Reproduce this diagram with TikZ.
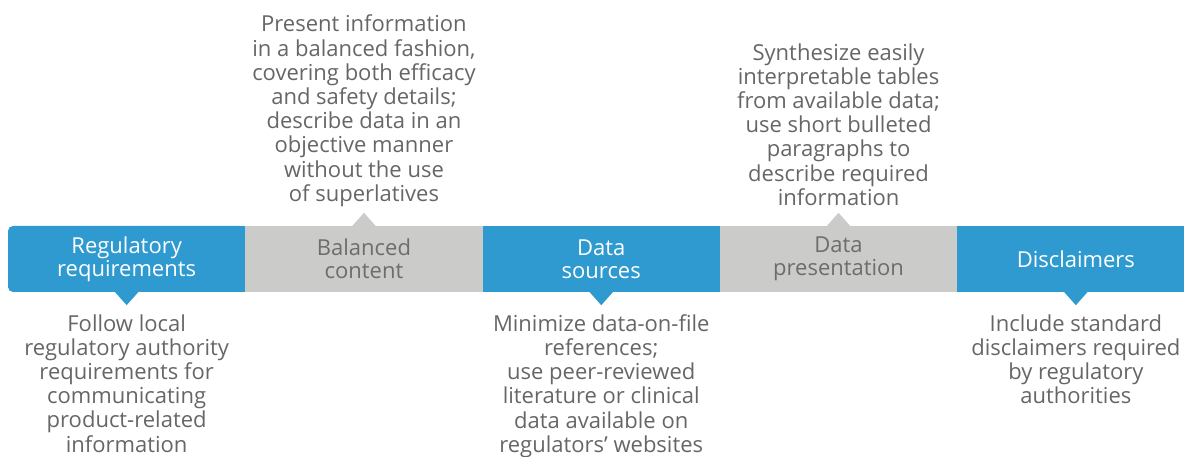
\documentclass[tikz,border=0pt]{standalone}
\usepackage{fontspec}
\setmainfont{Open Sans}
\usetikzlibrary{positioning}
\definecolor{stepblue}{HTML}{2E9AD0}
\definecolor{stepgray}{HTML}{CBCBCA}
\definecolor{notegray}{HTML}{666666}
\definecolor{labelgray}{HTML}{6D6D6D}

\begin{document}
\begin{tikzpicture}[x=1pt,y=-1pt,
	bluestep/.style={fill=stepblue,text=white,minimum width=237.3pt,minimum height=66pt,
		inner sep=0pt,align=center,font=\fontsize{22}{23}\selectfont},
	graystep/.style={bluestep,fill=stepgray,text=labelgray},
	note/.style={align=center,text=notegray,inner sep=0pt,font=\fontsize{22}{24.2}\selectfont}]
	\useasboundingbox (0,0) rectangle (1184,457);
	% the bar
	\node[bluestep,rounded corners=5pt] (reg) at (126.65,259) {Regulatory\\requirements};
	\fill[stepblue] ([xshift=-6pt]reg.north east) rectangle (reg.south east);
	\node[graystep] (bal) at (363.95,259) {Balanced\\content};
	\node[bluestep] (src) at (601.25,259) {Data\\sources};
	\node[graystep] (pres) at (838.55,259) {Data\\presentation};
	\node[bluestep] (disc) at (1075.85,259) {Disclaimers};
	% pointers
	\coordinate (reg-tip) at ([yshift=-13pt]reg.south);
	\coordinate (bal-tip) at ([yshift=13pt]bal.north);
	\coordinate (src-tip) at ([yshift=-13pt]src.south);
	\coordinate (pres-tip) at ([yshift=13pt]pres.north);
	\coordinate (disc-tip) at ([yshift=-13pt]disc.south);
	\fill[stepblue] ([xshift=-12pt,yshift=0.5pt]reg.south) -- ([xshift=12pt,yshift=0.5pt]reg.south) -- (reg-tip) -- cycle;
	\fill[stepgray] ([xshift=-12pt,yshift=-0.5pt]bal.north) -- ([xshift=12pt,yshift=-0.5pt]bal.north) -- (bal-tip) -- cycle;
	\fill[stepblue] ([xshift=-12pt,yshift=0.5pt]src.south) -- ([xshift=12pt,yshift=0.5pt]src.south) -- (src-tip) -- cycle;
	\fill[stepgray] ([xshift=-12pt,yshift=-0.5pt]pres.north) -- ([xshift=12pt,yshift=-0.5pt]pres.north) -- (pres-tip) -- cycle;
	\fill[stepblue] ([xshift=-12pt,yshift=0.5pt]disc.south) -- ([xshift=12pt,yshift=0.5pt]disc.south) -- (disc-tip) -- cycle;
	% notes
	\node[note,below=9pt of reg-tip] (reg-note) {Follow local\\regulatory authority\\requirements for\\communicating\\product-related\\information};
	\node[note,above=6pt of bal-tip] (bal-note) {Present information\\in a balanced fashion,\\covering both efficacy\\and safety details;\\describe data in an\\objective manner\\without the use\\of superlatives};
	\node[note,below=9pt of src-tip] (src-note) {Minimize data-on-file\\references;\\use peer-reviewed\\literature or clinical\\data available on\\regulators' websites};
	\node[note,above=7pt of pres-tip] (pres-note) {Synthesize easily\\interpretable tables\\from available data;\\use short bulleted\\paragraphs to\\describe required\\information};
	\node[note,below=9pt of disc-tip] (disc-note) {Include standard\\disclaimers required\\by regulatory\\authorities};
\end{tikzpicture}
\end{document}
